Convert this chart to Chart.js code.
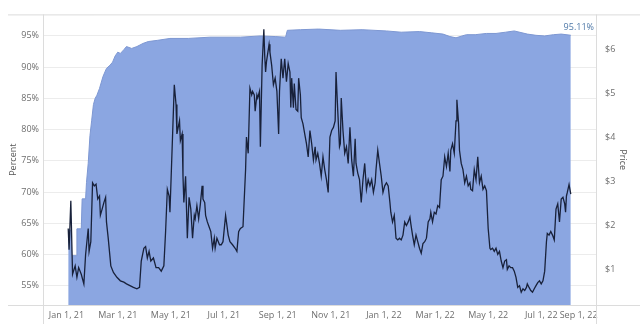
<!DOCTYPE html>
<html lang="en">
<head>
<meta charset="UTF-8">
<title>Percent and Price</title>
<script src="https://cdn.jsdelivr.net/npm/chart.js@4.4.0/dist/chart.umd.min.js"></script>
<style>
body { margin: 0; background: #fff; }
#chart { display: block; }
</style>
</head>
<body>
<canvas id="chart" width="640" height="324"></canvas>
<script>
// x values are days counted from Jan 1, 2021
const startDate = '2021-01-01';

const tickDates = ['2021-01-01', '2021-03-01', '2021-05-01', '2021-07-01', '2021-09-01', '2021-11-01',
    '2022-01-01', '2022-03-01', '2022-05-01', '2022-07-01', '2022-09-01'];
const tickLabels = ['Jan 1, 21', 'Mar 1, 21', 'May 1, 21', 'Jul 1, 21', 'Sep 1, 21', 'Nov 1, 21',
    'Jan 1, 22', 'Mar 1, 22', 'May 1, 22', 'Jul 1, 22', 'Sep 1, 22'];
const pctTicks = [55, 60, 65, 70, 75, 80, 85, 90, 95];
const priceTicks = [1, 2, 3, 4, 5, 6];

// percent (area)
const pctDays = [
    2, 5, 6, 11, 12, 17, 18, 22, 23, 25,
    27, 29, 31, 33, 35, 38, 42, 46, 50, 53,
    56, 59, 62, 66, 69, 75, 81, 88, 94, 105,
    119, 140, 165, 200, 223, 240, 252, 254, 269, 290,
    315, 340, 368, 385, 406, 420, 433, 441, 448, 455,
    460, 470, 483, 494, 505, 515, 530, 540, 550, 560,
    569, 580];
const pctValues = [
    63.9, 63.9, 59.8, 59.8, 64.1, 64.1, 68.9, 68.9, 71.5, 74.6,
    79.0, 81.5, 84.0, 85.0, 85.5, 86.6, 88.5, 89.8, 90.3, 90.8,
    91.8, 92.4, 92.2, 92.8, 93.3, 93.0, 93.3, 93.8, 94.1, 94.3,
    94.6, 94.6, 94.8, 94.8, 95.0, 94.9, 94.8, 95.9, 96.0, 96.1,
    95.9, 96.0, 95.8, 95.6, 95.7, 95.5, 95.3, 94.9, 94.7, 95.0,
    95.2, 95.2, 95.4, 95.4, 95.6, 95.8, 95.3, 95.1, 95.0, 95.2,
    95.3, 95.11];

// price (line)
const priceDays = [
    2, 3, 5, 7, 10, 12, 14, 17, 20, 22,
    25, 26, 28, 30, 32, 34, 36, 38, 39, 41,
    43, 45, 46, 48, 51, 54, 58, 62, 66, 69,
    73, 77, 81, 84, 86, 89, 91, 93, 95, 97,
    100, 103, 106, 109, 112, 114, 116, 118, 119, 124,
    126, 127, 130, 131, 133, 134, 135, 137, 139, 141,
    143, 145, 147, 148, 150, 152, 154, 156, 157, 159,
    160, 162, 164, 166, 168, 170, 171, 173, 176, 178,
    180, 183, 184, 186, 188, 191, 194, 196, 198, 200,
    203, 206, 207, 209, 211, 213, 214, 216, 217, 219,
    220, 222, 223, 225, 227, 228, 229, 230, 233, 234,
    236, 238, 240, 242, 244, 245, 247, 249, 251, 253,
    255, 257, 258, 259, 261, 262, 264, 266, 267, 269,
    270, 272, 274, 276, 278, 280, 282, 284, 286, 287,
    289, 291, 293, 295, 297, 299, 301, 303, 305, 307,
    309, 310, 312, 314, 315, 316, 318, 320, 322, 324,
    326, 328, 330, 332, 333, 335, 337, 339, 341, 343,
    345, 347, 349, 351, 353, 355, 356, 358, 360, 362,
    364, 366, 368, 370, 372, 373, 375, 377, 379, 381,
    383, 385, 387, 389, 391, 393, 395, 396, 398, 400,
    402, 404, 406, 408, 410, 412, 414, 416, 418, 419,
    421, 423, 425, 427, 429, 431, 433, 435, 437, 439,
    441, 442, 444, 446, 448, 449, 451, 452, 454, 456,
    458, 460, 462, 464, 465, 467, 469, 471, 473, 475,
    477, 479, 481, 483, 485, 487, 488, 490, 492, 494,
    496, 498, 500, 502, 504, 506, 507, 509, 511, 513,
    515, 517, 519, 521, 523, 525, 527, 529, 530, 532,
    534, 536, 538, 540, 542, 544, 546, 548, 550, 552,
    553, 555, 557, 559, 561, 563, 565, 567, 569, 571,
    573, 574, 575, 576, 578, 580];
const priceUsd = [
    1.93, 1.45, 2.56, 0.89, 1.08, 0.82, 1.04, 0.89, 0.67, 1.34,
    1.93, 1.41, 1.63, 2.97, 2.90, 2.94, 2.60, 2.67, 2.23, 2.37,
    2.52, 2.64, 2.08, 1.71, 1.08, 0.93, 0.82, 0.74, 0.71, 0.67,
    0.63, 0.59, 0.56, 0.59, 1.19, 1.48, 1.52, 1.26, 1.41, 1.19,
    1.26, 1.04, 1.04, 0.96, 1.08, 1.86, 2.82, 2.67, 2.30, 5.20,
    4.75, 4.08, 4.38, 3.93, 4.08, 3.12, 2.52, 3.12, 1.71, 2.64,
    2.37, 1.71, 2.23, 2.15, 2.45, 2.15, 2.49, 2.90, 2.60, 2.52,
    2.23, 2.08, 1.97, 1.86, 1.48, 1.71, 1.48, 1.71, 1.56, 1.56,
    1.63, 2.23, 2.08, 1.78, 1.63, 1.56, 1.48, 1.41, 1.86, 1.93,
    1.97, 3.27, 4.01, 3.64, 5.12, 4.97, 5.05, 4.97, 4.60, 4.97,
    4.90, 5.05, 3.79, 5.64, 6.46, 5.86, 5.49, 5.72, 6.12, 5.94,
    5.64, 5.20, 5.35, 5.05, 4.08, 5.05, 5.79, 5.35, 5.79, 5.27,
    5.68, 5.49, 4.68, 5.35, 4.68, 5.23, 4.64, 4.60, 5.35, 4.97,
    4.45, 4.31, 4.08, 3.86, 3.56, 4.16, 3.86, 3.49, 3.79, 3.49,
    3.64, 3.41, 3.12, 3.56, 3.27, 3.04, 2.75, 4.01, 4.16, 4.23,
    4.38, 5.49, 4.60, 3.79, 3.86, 4.90, 4.16, 3.64, 3.79, 3.41,
    4.23, 3.49, 3.12, 3.97, 3.41, 3.19, 3.04, 2.52, 3.04, 3.41,
    2.82, 3.04, 2.90, 3.04, 2.75, 2.97, 3.27, 3.71, 3.41, 3.12,
    2.75, 2.90, 2.97, 2.90, 2.52, 2.30, 2.08, 2.23, 1.71, 1.67,
    1.71, 1.67, 1.78, 2.08, 2.00, 2.08, 2.19, 2.04, 1.78, 1.56,
    1.78, 1.63, 1.48, 1.37, 1.59, 1.63, 1.71, 2.08, 2.15, 2.30,
    2.08, 2.30, 2.26, 2.45, 2.41, 3.04, 3.12, 3.56, 3.34, 3.64,
    3.23, 3.71, 3.86, 3.64, 4.38, 4.86, 4.31, 3.71, 3.41, 3.27,
    2.97, 3.12, 2.90, 2.97, 2.82, 2.79, 3.27, 3.04, 3.56, 2.97,
    3.12, 2.82, 2.90, 2.79, 1.93, 1.48, 1.45, 1.48, 1.41, 1.48,
    1.34, 1.41, 1.19, 1.04, 1.19, 1.22, 1.00, 1.08, 1.04, 1.04,
    0.96, 0.82, 0.59, 0.63, 0.48, 0.56, 0.52, 0.59, 0.67, 0.59,
    0.52, 0.48, 0.56, 0.63, 0.70, 0.74, 0.67, 0.74, 0.96, 1.63,
    1.82, 1.78, 1.86, 1.78, 1.67, 2.37, 2.49, 2.08, 2.60, 2.64,
    2.49, 2.30, 2.67, 2.75, 2.93, 2.71];

const DAY = 86400000;
const dayOf = (s) => Math.round((Date.parse(s) - Date.parse(startDate)) / DAY);
const tickDays = tickDates.map(dayOf);

const xMin = -27, xMax = 609;
const textColor = '#6e6e6e';
const lineColor = '#dcdcdc';
const font = { family: 'Open Sans', size: 9 };

// tableau-like frame: axis lines that run past the plot corners, plus the end label
const framePlugin = {
    id: 'frame',
    afterDraw(chart) {
        const ctx = chart.ctx;
        const a = chart.chartArea;
        ctx.save();
        ctx.strokeStyle = lineColor;
        ctx.lineWidth = 1;
        ctx.beginPath();
        ctx.moveTo(8, a.top + 0.5); ctx.lineTo(640, a.top + 0.5);
        ctx.moveTo(8, a.bottom + 0.5); ctx.lineTo(640, a.bottom + 0.5);
        ctx.moveTo(a.left + 0.5, a.top); ctx.lineTo(a.left + 0.5, 324);
        ctx.moveTo(a.right + 0.5, a.top); ctx.lineTo(a.right + 0.5, 324);
        ctx.stroke();

        const meta = chart.getDatasetMeta(1);
        const last = meta.data[meta.data.length - 1];
        ctx.fillStyle = '#4f79a8';
        ctx.font = '9px "Open Sans"';
        ctx.textAlign = 'center';
        ctx.textBaseline = 'middle';
        ctx.fillText(pctValues[pctValues.length - 1].toFixed(2) + '%', last.x + 8, last.y - 8);
        ctx.restore();
    }
};

new Chart(document.getElementById('chart'), {
    type: 'line',
    data: {
        datasets: [{
            label: 'Price',
            data: priceDays.map((d, i) => ({ x: d, y: priceUsd[i] })),
            yAxisID: 'y1',
            borderColor: '#18213a',
            borderWidth: 1.3,
            pointRadius: 0,
            fill: false,
            order: 1
        }, {
            label: 'Percent',
            data: pctDays.map((d, i) => ({ x: d, y: pctValues[i] })),
            yAxisID: 'y',
            borderColor: '#7d97d2',
            borderWidth: 1,
            backgroundColor: '#8ba6e1',
            pointRadius: 0,
            fill: 'start',
            order: 2
        }]
    },
    options: {
        responsive: false,
        animation: false,
        devicePixelRatio: 1,
        layout: { padding: { top: 8, left: 0, right: 0, bottom: 0 } },
        plugins: { legend: { display: false }, tooltip: { enabled: false } },
        scales: {
            x: {
                type: 'linear',
                min: xMin,
                max: xMax,
                // last label is pulled inside the axis, as the original tool does
                afterBuildTicks: (s) => { s.ticks = tickDays.map(v => ({ value: Math.min(v, xMax - 20) })); },
                afterFit: (s) => { s.height = 19; },
                grid: { display: false, drawTicks: false },
                border: { display: false },
                ticks: {
                    font: font,
                    color: textColor,
                    padding: 5,
                    maxRotation: 0,
                    autoSkip: false,
                    callback: (v, i) => tickLabels[i]
                }
            },
            y: {
                position: 'left',
                min: 51.9,
                max: 98.45,
                afterBuildTicks: (s) => { s.ticks = pctTicks.map(v => ({ value: v })); },
                afterFit: (s) => { s.width = 43; },
                grid: { color: '#ececec', drawTicks: false },
                border: { display: false },
                ticks: { font: font, color: textColor, padding: 4, callback: (v) => v + '%' },
                title: { display: true, text: 'Percent', font: font, color: '#555', padding: { top: 8, bottom: 0 } }
            },
            y1: {
                position: 'right',
                min: 0.19,
                max: 6.8,
                afterBuildTicks: (s) => { s.ticks = priceTicks.map(v => ({ value: v })); },
                afterFit: (s) => { s.width = 44; },
                grid: { display: false, drawTicks: false },
                border: { display: false },
                ticks: { font: font, color: textColor, padding: 9, callback: (v) => '$' + v },
                title: { display: true, text: 'Price', font: font, color: '#555', padding: { top: 12, bottom: 0 } }
            }
        }
    },
    plugins: [framePlugin]
});
</script>
</body>
</html>
